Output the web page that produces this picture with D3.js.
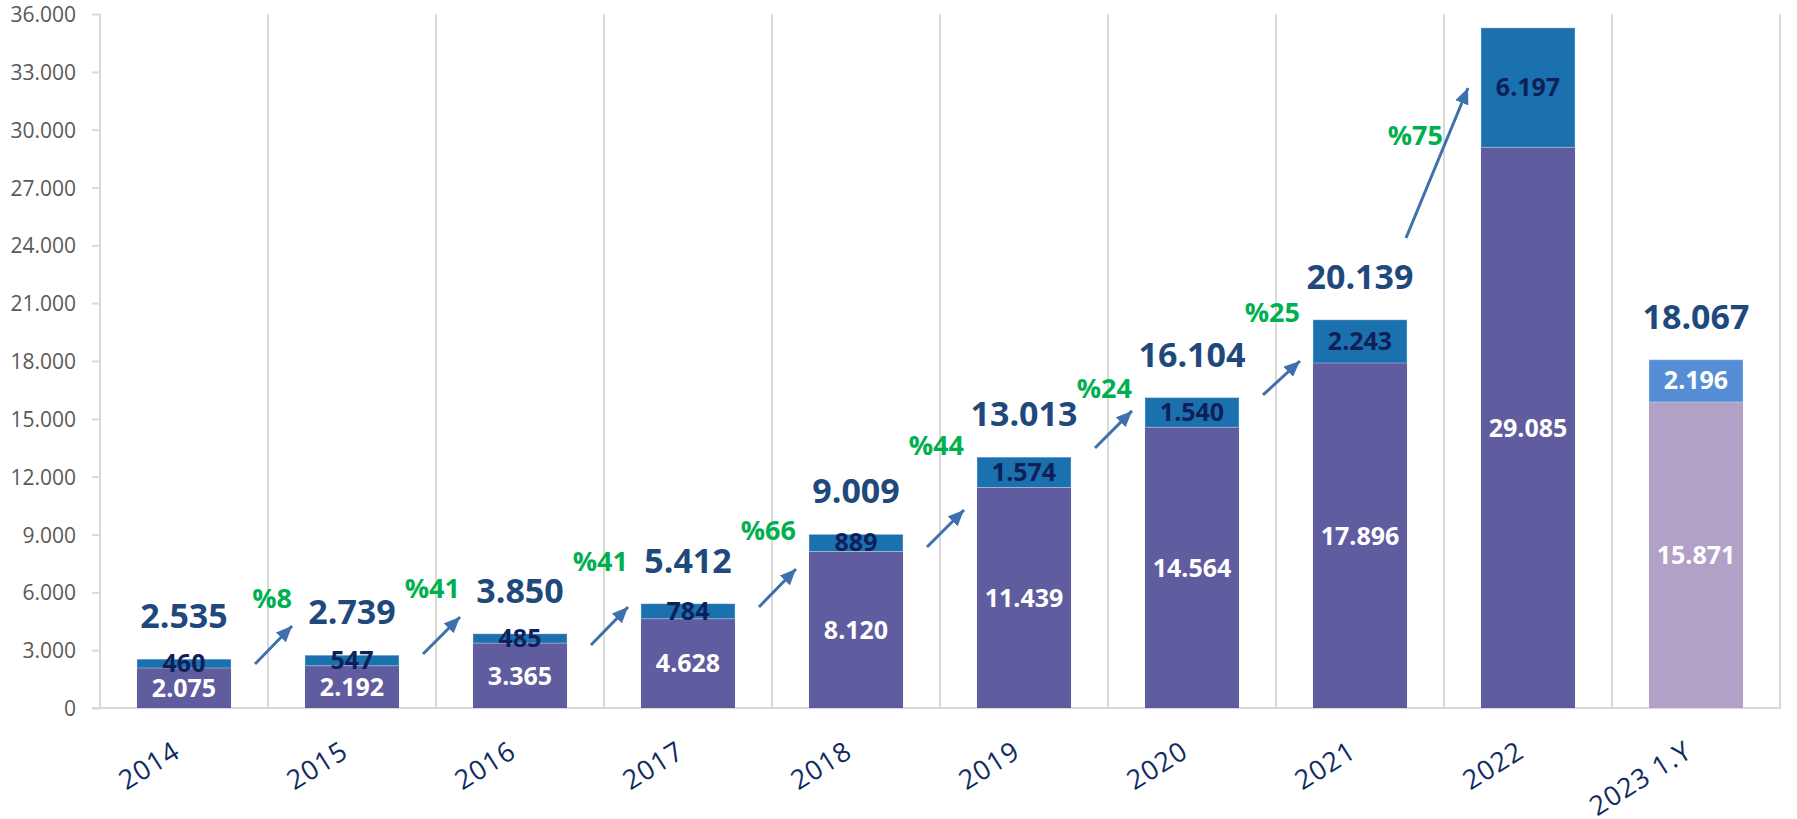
<!DOCTYPE html>
<html lang="tr">
<head>
<meta charset="UTF-8">
<script src="https://d3js.org/d3.v7.min.js"></script>
<title>Chart</title>
<style>
    body { margin: 0; background: #fff; }
    text { font-family: "Open Sans", sans-serif; }
    .ytick text { font-size: 21px; fill: #595959; }
    .grid { stroke: #d9d9d9; stroke-width: 2; }
</style>
</head>
<body>
<div id="container"></div>
<script>
    // data
    var categories = ["2014", "2015", "2016", "2017", "2018", "2019", "2020", "2021", "2022", "2023 1.Y"];
    var baseValues = [2075, 2192, 3365, 4628, 8120, 11439, 14564, 17896, 29085, 15871];
    var topValues  = [460, 547, 485, 784, 889, 1574, 1540, 2243, 6197, 2196];
    var totals     = [2535, 2739, 3850, 5412, 9009, 13013, 16104, 20139, 35282, 18067];
    var growthLabels = ["%8", "%41", "%41", "%66", "%44", "%24", "%25", "%75"];
    // arrows between bars: start / end heights (value units), label height
    var arrowFrom = [2280, 2800, 3270, 5240, 8350, 13490, 16240, 24380];
    var arrowTo   = [4250, 4720, 5240, 7210, 10270, 15410, 18000, 32160];
    var growthAt  = [5710, 6220, 7630, 9230, 13640, 16600, 20540, 29720];
    var yTickValues = [0, 3000, 6000, 9000, 12000, 15000, 18000, 21000, 24000, 27000, 30000, 33000, 36000];

    var svgW = 1797, svgH = 819;
    var plotL = 100, plotR = 1780, plotT = 14, plotB = 708;

    var fmt = d3.formatLocale({decimal: ",", thousands: ".", grouping: [3], currency: ["", ""]}).format(",d");

    var svg = d3.select("#container").append("svg")
        .attr("width", svgW).attr("height", svgH);

    var x = d3.scaleBand().domain(categories).range([plotL, plotR])
        .paddingInner(0.44).paddingOuter(0.22);
    var y = d3.scaleLinear().domain([0, 36000]).range([plotB, plotT]);
    var step = x.step();
    var cx = function (i) { return x(categories[i]) + x.bandwidth() / 2; };

    // vertical grid lines at category borders
    svg.append("g").selectAll("line")
        .data(d3.range(categories.length + 1))
        .join("line").attr("class", "grid")
        .attr("x1", function (i) { return plotL + i * step; })
        .attr("x2", function (i) { return plotL + i * step; })
        .attr("y1", plotT).attr("y2", plotB);

    // y axis
    var yAxis = svg.append("g").attr("class", "ytick")
        .attr("transform", "translate(" + plotL + ",0)")
        .call(d3.axisLeft(y).tickValues(yTickValues).tickFormat(fmt).tickSize(8).tickPadding(16));
    yAxis.select(".domain").remove();
    yAxis.selectAll("line").attr("stroke", "#d9d9d9").attr("stroke-width", 2);
    yAxis.selectAll("text").attr("dy", "0.36em");

    // x axis line
    svg.append("line").attr("class", "grid")
        .attr("x1", plotL - 8).attr("x2", plotR + 1)
        .attr("y1", plotB).attr("y2", plotB);

    var isPartial = function (i) { return categories[i].indexOf("1.Y") >= 0; };

    var bars = svg.append("g").selectAll("g")
        .data(categories.map(function (c, i) { return i; }))
        .join("g");

    bars.append("rect")
        .attr("x", function (i) { return x(categories[i]); })
        .attr("width", x.bandwidth())
        .attr("y", function (i) { return y(baseValues[i]); })
        .attr("height", function (i) { return y(0) - y(baseValues[i]); })
        .attr("fill", function (i) { return isPartial(i) ? "#b1a1c7" : "#5f5ca0"; });

    bars.append("rect")
        .attr("x", function (i) { return x(categories[i]); })
        .attr("width", x.bandwidth())
        .attr("y", function (i) { return y(baseValues[i] + topValues[i]); })
        .attr("height", function (i) { return y(baseValues[i]) - y(baseValues[i] + topValues[i]); })
        .attr("fill", function (i) { return isPartial(i) ? "#558ed5" : "#1b71ad"; })
        .attr("stroke", "rgba(255,255,255,0.35)").attr("stroke-width", 1);

    // segment labels
    bars.append("text")
        .attr("x", cx)
        .attr("y", function (i) { return (y(0) + y(baseValues[i])) / 2; })
        .attr("dy", "0.36em").attr("text-anchor", "middle")
        .attr("font-size", 25).attr("font-weight", 700).attr("fill", "#fff")
        .text(function (i) { return fmt(baseValues[i]); });

    bars.append("text")
        .attr("x", cx)
        .attr("y", function (i) { return (y(baseValues[i]) + y(baseValues[i] + topValues[i])) / 2; })
        .attr("dy", "0.34em").attr("text-anchor", "middle")
        .attr("font-size", 25).attr("font-weight", 700)
        .attr("fill", function (i) { return isPartial(i) ? "#fff" : "#0e1f5a"; })
        .text(function (i) { return fmt(topValues[i]); });

    // totals
    bars.append("text")
        .attr("x", cx)
        .attr("y", function (i) { return y(totals[i]) - 31; })
        .attr("text-anchor", "middle")
        .attr("font-size", 34).attr("font-weight", 700).attr("fill", "#1f497d")
        .text(function (i) { return fmt(totals[i]); });

    // x labels
    svg.append("g").selectAll("text")
        .data(categories.map(function (c, i) { return i; }))
        .join("text")
        .attr("transform", function (i) { return "translate(" + (cx(i) - 2) + ",756) rotate(-32)"; })
        .attr("text-anchor", "end")
        .attr("font-size", 27).attr("letter-spacing", 1).attr("fill", "#0f2b61")
        .text(function (i) { return categories[i]; });

    // growth arrows
    svg.append("defs").append("marker")
        .attr("id", "head").attr("markerUnits", "userSpaceOnUse")
        .attr("viewBox", "0 0 16 14").attr("refX", 16).attr("refY", 7)
        .attr("markerWidth", 16).attr("markerHeight", 14).attr("orient", "auto")
        .append("path").attr("d", "M0,0L16,7L0,14Z").attr("fill", "#3e70ab");

    // an arrow that starts well above the previous total sits closer to that bar
    var shift = function (i) { return arrowFrom[i] > totals[i] + 2000 ? -25 : 0; };

    var arrows = svg.append("g").selectAll("g")
        .data(growthLabels.map(function (g, i) { return i; }))
        .join("g");

    arrows.append("line")
        .attr("x1", function (i) { return cx(i) + 71 + shift(i); })
        .attr("y1", function (i) { return y(arrowFrom[i]); })
        .attr("x2", function (i) { return cx(i + 1) - 60; })
        .attr("y2", function (i) { return y(arrowTo[i]); })
        .attr("stroke", "#3e70ab").attr("stroke-width", 3)
        .attr("marker-end", "url(#head)");

    arrows.append("text")
        .attr("x", function (i) { return cx(i) + 108 + shift(i); })
        .attr("y", function (i) { return y(growthAt[i]); })
        .attr("dy", "0.36em").attr("text-anchor", "end")
        .attr("font-size", 27).attr("font-weight", 700).attr("fill", "#00b050")
        .text(function (i) { return growthLabels[i]; });
</script>
</body>
</html>
